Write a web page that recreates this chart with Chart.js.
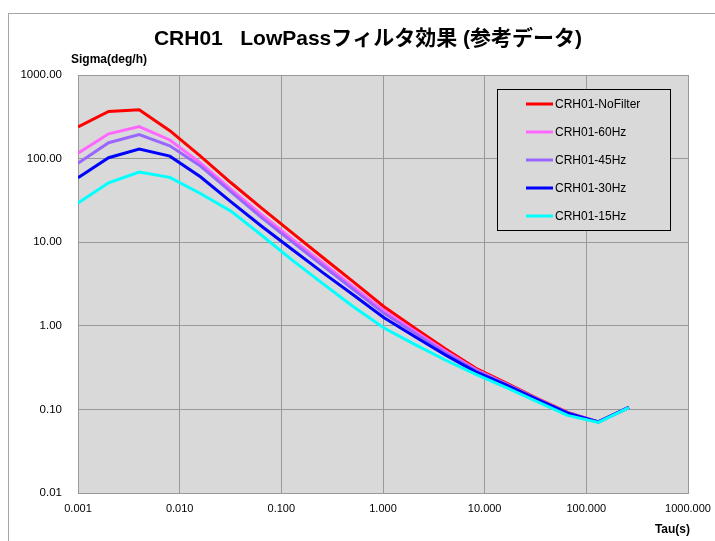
<!DOCTYPE html>
<html>
<head>
<meta charset="utf-8">
<script src="https://cdn.jsdelivr.net/npm/chart.js@4.4.1/dist/chart.umd.min.js"></script>
<style>
  html, body { margin: 0; padding: 0; background: #fff; }
  #wrap { position: relative; width: 715px; height: 541px; overflow: hidden; }
  #frame { position: absolute; left: 8px; top: 13px; width: 800px; height: 600px; border: 1px solid #a6a6a6; }
  #allanChart { position: absolute; left: 0; top: 0; }
</style>
</head>
<body>
<div id="wrap">
  <div id="frame"></div>
  <canvas id="allanChart" width="715" height="541"></canvas>
</div>
<script>
// tau (s) of each point
const tau = [0.001, 0.002, 0.004, 0.008, 0.016, 0.032, 0.064, 0.128, 0.256, 0.512,
             1.024, 2.048, 4.096, 8.192, 16.384, 32.768, 65.536, 131.072, 262.144];

// sigma (deg/h) per filter
const noFilter = [239, 366, 384, 216, 107, 51.4, 25.5, 12.9, 6.56, 3.35,
                  1.69, 0.94, 0.53, 0.31, 0.206, 0.136, 0.092, 0.071, 0.106];
const hz60 = [116, 198, 242, 167, 89, 42.9, 21.3, 10.9, 5.64, 2.92,
              1.51, 0.865, 0.50, 0.30, 0.201, 0.134, 0.091, 0.071, 0.106];
const hz45 = [87.8, 155, 194, 142, 81.5, 40.1, 19.7, 10.1, 5.23, 2.72,
              1.41, 0.82, 0.48, 0.293, 0.199, 0.133, 0.091, 0.071, 0.106];
const hz30 = [58.9, 102.5, 130, 107, 60.6, 30.3, 15.5, 8.17, 4.33, 2.34,
              1.25, 0.743, 0.449, 0.281, 0.195, 0.1315, 0.090, 0.071, 0.106];
const hz15 = [29.5, 51.4, 69, 59.6, 38.3, 23.5, 12.1, 6.11, 3.2, 1.69,
              0.94, 0.60, 0.39, 0.263, 0.182, 0.1235, 0.0847, 0.070, 0.105];

const seriesNames = ['CRH01-NoFilter', 'CRH01-60Hz', 'CRH01-45Hz', 'CRH01-30Hz', 'CRH01-15Hz'];
const seriesColors = ['#ff0000', '#ff66ff', '#9966ff', '#0000ff', '#00ffff'];
const seriesValues = [noFilter, hz60, hz45, hz30, hz15];

// axis ticks
const xTicks = [0.001, 0.01, 0.1, 1, 10, 100, 1000];
const yTicks = [0.01, 0.1, 1, 10, 100, 1000];

const datasets = seriesNames.map((name, i) => ({
    label: name,
    data: tau.map((t, j) => ({ x: t, y: seriesValues[i][j] })),
    borderColor: seriesColors[i],
    backgroundColor: seriesColors[i],
    borderWidth: 3,
    pointRadius: 0,
    tension: 0,
    fill: false,
    order: seriesNames.length - i  // last series drawn on top
}));

// grey plot area
const plotBg = {
    id: 'plotBg',
    beforeDraw(chart) {
        const { ctx, chartArea: a } = chart;
        ctx.save();
        ctx.fillStyle = '#d9d9d9';
        ctx.fillRect(a.left, a.top, a.right - a.left, a.bottom - a.top);
        ctx.restore();
    }
};

// titles + legend box inside the plot
const extras = {
    id: 'extras',
    afterDatasetsDraw(chart) {
        const ctx = chart.ctx;
        ctx.save();
        ctx.fillStyle = '#000';
        ctx.textBaseline = 'alphabetic';
        ctx.textAlign = 'center';
        ctx.font = 'bold 21px "Liberation Sans", "Noto Sans CJK JP", sans-serif';
        ctx.fillText('CRH01   LowPassフィルタ効果 (参考データ)', 368, 45);

        ctx.textAlign = 'left';
        ctx.font = 'bold 12px "Liberation Sans", sans-serif';
        ctx.fillText('Sigma(deg/h)', 71, 63);
        ctx.textAlign = 'right';
        ctx.fillText('Tau(s)', 690, 533);

        // legend
        const bx = 497, by = 89, bw = 173, bh = 141;
        ctx.fillStyle = '#d9d9d9';
        ctx.fillRect(bx, by, bw, bh);
        ctx.strokeStyle = '#000';
        ctx.lineWidth = 1;
        ctx.strokeRect(bx + 0.5, by + 0.5, bw, bh);
        ctx.textAlign = 'left';
        ctx.textBaseline = 'middle';
        ctx.font = '12px "Liberation Sans", sans-serif';
        chart.data.datasets.forEach((ds, i) => {
            const y = 104 + i * 28;
            ctx.strokeStyle = ds.borderColor;
            ctx.lineWidth = 3;
            ctx.beginPath();
            ctx.moveTo(526, y);
            ctx.lineTo(553, y);
            ctx.stroke();
            ctx.fillStyle = '#000';
            ctx.fillText(ds.label, 555, y + 1);
        });
        ctx.restore();
    }
};

new Chart(document.getElementById('allanChart'), {
    type: 'line',
    data: { datasets: datasets },
    plugins: [plotBg, extras],
    options: {
        responsive: false,
        devicePixelRatio: 1,
        animation: false,
        layout: { padding: { top: 75, right: 27, bottom: 0, left: 0 } },
        plugins: {
            legend: { display: false },
            title: { display: false },
            tooltip: { enabled: false }
        },
        scales: {
            x: {
                type: 'logarithmic',
                position: 'bottom',
                min: 0.001,
                max: 1000,
                afterBuildTicks: axis => { axis.ticks = xTicks.map(v => ({ value: v })); },
                afterFit: axis => { axis.height = 48; axis.paddingLeft = 0; axis.paddingRight = 0; },
                ticks: {
                    autoSkip: false,
                    maxRotation: 0,
                    padding: 9,
                    color: '#000',
                    font: { family: '"Liberation Sans", sans-serif', size: 11 },
                    callback: v => Number(v).toFixed(3)
                },
                grid: { color: '#999', lineWidth: 1, drawTicks: false },
                border: { color: '#999' }
            },
            y: {
                type: 'logarithmic',
                min: 0.01,
                max: 1000,
                afterBuildTicks: axis => { axis.ticks = yTicks.map(v => ({ value: v })); },
                afterFit: axis => { axis.width = 78; axis.paddingTop = 0; axis.paddingBottom = 0; },
                ticks: {
                    autoSkip: false,
                    padding: 16,
                    color: '#000',
                    font: { family: '"Liberation Sans", sans-serif', size: 11.5 },
                    callback: v => Number(v).toFixed(2)
                },
                grid: { color: '#999', lineWidth: 1, drawTicks: false },
                border: { color: '#999' }
            }
        }
    }
});
</script>
</body>
</html>
